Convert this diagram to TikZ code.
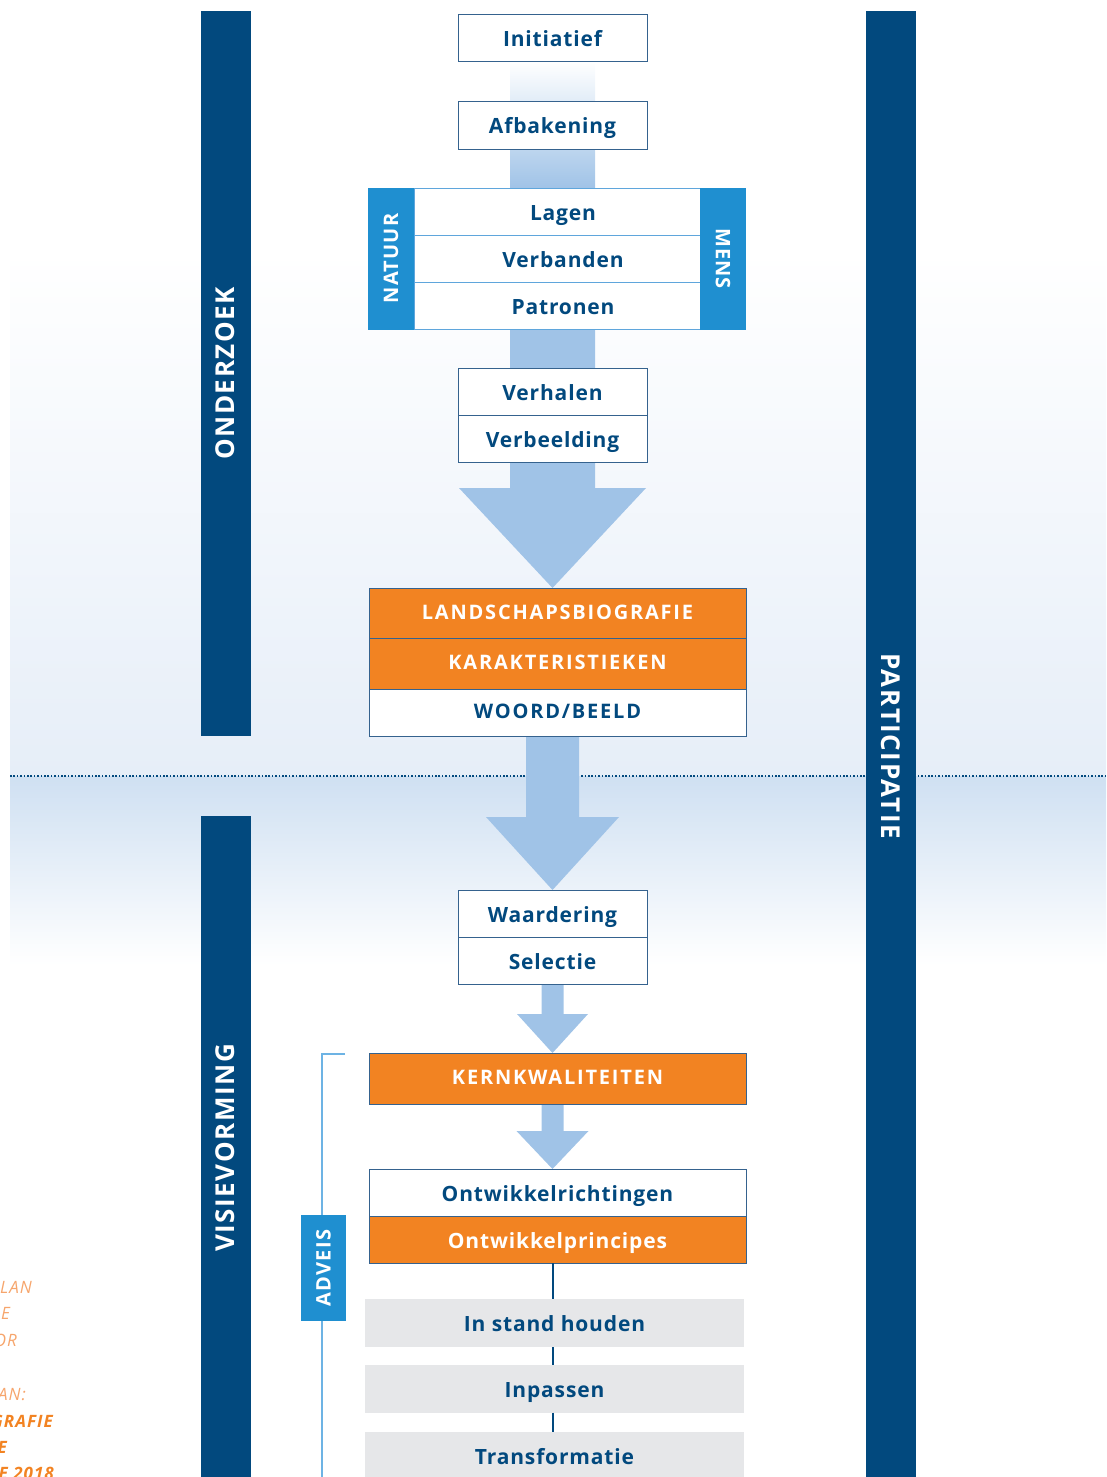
\documentclass[tikz,border=0pt]{standalone}
\usepackage{fontspec}
\setmainfont{Open Sans}
\newfontfamily\boxfont[LetterSpace=4.0]{Open Sans}
\newfontfamily\capsfont[LetterSpace=9.0]{Open Sans}
\newfontfamily\barfont[LetterSpace=6.0]{Open Sans}
\usetikzlibrary{positioning,calc,backgrounds}

\definecolor{darkblue}{HTML}{02497E}
\definecolor{midblue}{HTML}{1F8FD0}
\definecolor{lineblue}{HTML}{5FA6DC}
\definecolor{arrowblue}{HTML}{A0C3E7}
\definecolor{boxline}{HTML}{35628E}
\definecolor{orangefill}{HTML}{F28322}
\definecolor{lightorange}{HTML}{F6A56C}
\definecolor{grayfill}{HTML}{E6E7E9}
\definecolor{bglight}{HTML}{E6EEF8}
\definecolor{bgband}{HTML}{CFE0F2}
\definecolor{bracketblue}{HTML}{6DB3E4}

\begin{document}
\begin{tikzpicture}[x=1pt,y=-1pt]

    \tikzset{
      stepbox/.style={
        draw=boxline,
        line width=1pt,
        fill=white,
        text=darkblue,
        inner sep=0pt,
        outer sep=0pt,
        minimum width=189pt,
        minimum height=47pt,
        text height=20pt,
        text depth=3pt,
        font=\boxfont\bfseries\fontsize{21}{24}\selectfont,
      },
      widebox/.style={stepbox, minimum width=377pt},
      capsbox/.style={widebox, text height=15pt, font=\capsfont\bfseries\fontsize{20}{24}\selectfont},
      orangebox/.style={fill=orangefill, text=white},
      layerbox/.style={stepbox, draw=lineblue, minimum width=298pt},
      graybox/.style={stepbox, draw=none, fill=grayfill, minimum width=379pt, minimum height=48pt},
      bar/.style={
        fill=darkblue,
        text=white,
        inner sep=0pt,
        outer sep=0pt,
        minimum height=50pt,
        font=\barfont\bfseries\fontsize{26}{30}\selectfont,
      },
      tag/.style={bar, fill=midblue, minimum height=46pt, font=\barfont\bfseries\fontsize{20}{24}\selectfont},
      arrowfill/.style={fill=arrowblue},
      thinlink/.style={draw=darkblue, line width=2pt},
      dotline/.style={draw=darkblue, line width=2.2pt, dash pattern=on 1.6pt off 1.8pt},
      bracketline/.style={draw=bracketblue, line width=1.5pt},
      note/.style={anchor=east, inner sep=0pt, text=lightorange, font=\barfont\itshape\fontsize{17}{20}\selectfont},
      boldnote/.style={note, text=orangefill, font=\barfont\bfseries\itshape\fontsize{17}{20}\selectfont},
    }
    \useasboundingbox (0,0) rectangle (1106,1477);
    \clip (0,0) rectangle (1106,1477);

    \node[bar, rotate=90, minimum width=725pt] (onderzoek) at (225.5,373.5) {ONDERZOEK};
    \node[bar, rotate=90, minimum width=664pt] (visie) at (225.5,1148) {VISIEVORMING};
    \node[bar, rotate=-90, minimum width=1470pt] (participatie) at (890.5,746) {PARTICIPATIE};

    \node[stepbox] (initiatief) at (552.5,38.5) {Initiatief};
    \node[stepbox] (afbakening) at (552.5,125.5) {Afbakening};

    \node[layerbox] (lagen) at (563,211.5) {Lagen};
    \node[layerbox, below=0pt of lagen] (verbanden) {Verbanden};
    \node[layerbox, below=0pt of verbanden] (patronen) {Patronen};
    \node[tag, rotate=90, minimum width=142pt] (natuur) at (391,258.5) {NATUUR};
    \node[tag, rotate=-90, minimum width=142pt] (mens) at (723,258.5) {MENS};

    \node[stepbox] (verhalen) at (552.5,391.5) {Verhalen};
    \node[stepbox, below=0pt of verhalen] (verbeelding) {Verbeelding};

    \node[capsbox, orangebox, minimum height=50pt] (biografie) at (557.5,613) {LANDSCHAPSBIOGRAFIE};
    \node[capsbox, orangebox, minimum height=51pt, below=0pt of biografie] (karakter) {KARAKTERISTIEKEN};
    \node[capsbox, below=0pt of karakter] (woordbeeld) {WOORD/BEELD};

    \node[stepbox] (waardering) at (552.5,913.5) {Waardering};
    \node[stepbox, below=0pt of waardering] (selectie) {Selectie};

    \node[capsbox, orangebox, minimum height=51pt] (kern) at (557.5,1078.5) {KERNKWALITEITEN};

    \node[widebox] (richtingen) at (557.5,1192.5) {Ontwikkelrichtingen};
    \node[widebox, orangebox, below=0pt of richtingen] (principes) {Ontwikkelprincipes};

    \node[graybox] (instand) at (554.5,1323) {In stand houden};
    \node[graybox] (inpassen) at (554.5,1388.5) {Inpassen};
    \node[graybox] (transformatie) at (554.5,1456) {Transformatie};

    \node[tag, rotate=90, minimum width=106pt, minimum height=45pt] (adveis) at (323.5,1268) {ADVEIS};

    \draw[thinlink] (selectie.south |- principes.south) -- (selectie.south |- instand.north);
    \draw[thinlink] (selectie.south |- instand.south) -- (selectie.south |- inpassen.north);
    \draw[thinlink] (selectie.south |- inpassen.south) -- (selectie.south |- transformatie.north);

    \node[note] (notea) at (32,1287) {LAN};
    \node[note] (noteb) at (10,1313) {E};
    \node[note] (notec) at (17,1340) {OR};
    \node[note] (noted) at (26,1395) {AN:};
    \node[boldnote] (notee) at (53,1421) {GRAFIE};
    \node[boldnote] (notef) at (7,1447) {E};
    \node[boldnote] (noteg) at (54,1473) {E 2018};

    \begin{scope}[on background layer]
      \shade[top color=white, bottom color=bglight] (10,250) rectangle (1106,776);
      \shade[top color=bgband, bottom color=white] (10,776) rectangle (1106,965);
      \draw[dotline] (10,776) -- (1106,776);
      \draw[bracketline] ($(kern.north west)+(-24,1)$) -- ($(kern.north west)+(-47,1)$) -- ++(0,430);

      \shade[top color=white, bottom color=arrowblue] ($(initiatief.south)+(-42.5,0)$) rectangle ($(afbakening.south |- lagen.north)+(42.5,0)$);

      \coordinate (tipa) at (afbakening.south |- biografie.north);
      \fill[arrowfill] ($(afbakening.south |- lagen.north)+(-42.5,0)$) -- ($(tipa)+(-42.5,-100)$) -- ($(tipa)+(-93.5,-100)$) -- (tipa)
        -- ($(tipa)+(93.5,-100)$) -- ($(tipa)+(42.5,-100)$) -- ($(afbakening.south |- lagen.north)+(42.5,0)$) -- cycle;

      \coordinate (tipb) at (waardering.north);
      \fill[arrowfill] ($(woordbeeld.south -| tipb)+(-26.5,0)$) -- ($(tipb)+(-26.5,-73)$) -- ($(tipb)+(-66.5,-73)$) -- (tipb)
        -- ($(tipb)+(66.5,-73)$) -- ($(tipb)+(26.5,-73)$) -- ($(woordbeeld.south -| tipb)+(26.5,0)$) -- cycle;

      \coordinate (tipc) at (selectie.south |- kern.north);
      \fill[arrowfill] ($(selectie.south)+(-11,0)$) -- ($(tipc)+(-11,-39)$) -- ($(tipc)+(-35.5,-39)$) -- (tipc)
        -- ($(tipc)+(35.5,-39)$) -- ($(tipc)+(11,-39)$) -- ($(selectie.south)+(11,0)$) -- cycle;

      \coordinate (tipd) at (selectie.south |- richtingen.north);
      \fill[arrowfill] ($(selectie.south |- kern.south)+(-11,0)$) -- ($(tipd)+(-11,-38)$) -- ($(tipd)+(-36,-38)$) -- (tipd)
        -- ($(tipd)+(36,-38)$) -- ($(tipd)+(11,-38)$) -- ($(selectie.south |- kern.south)+(11,0)$) -- cycle;
    \end{scope}

\end{tikzpicture}
\end{document}
